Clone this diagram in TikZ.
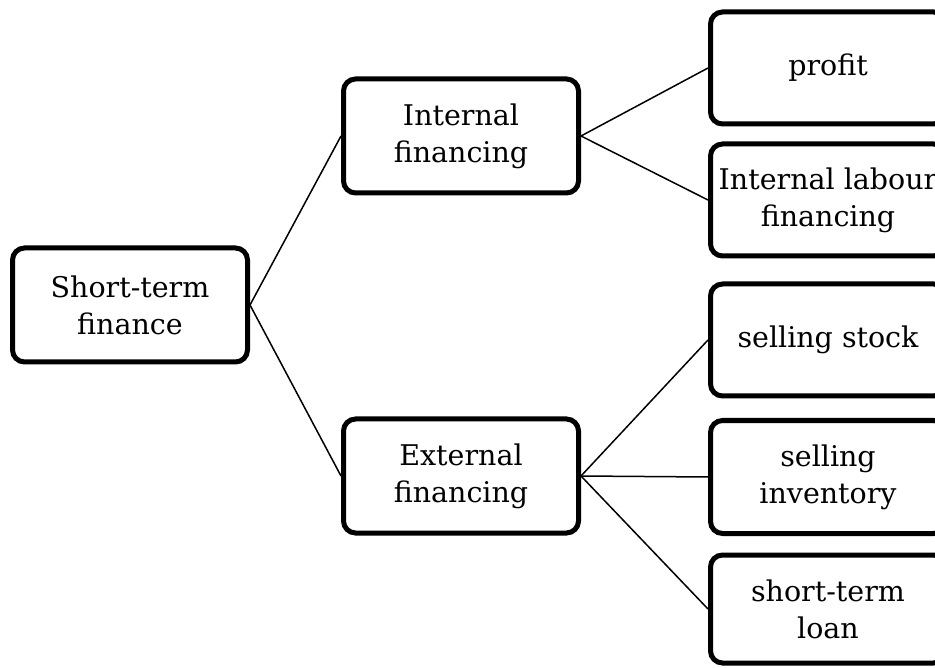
\documentclass[tikz,border=0pt]{standalone}
\usepackage{fontspec}
\setmainfont{DejaVu Serif}
\usepackage{tikz}

\begin{document}
\begin{tikzpicture}[x=1pt, y=-1pt,
    box/.style={draw, line width=5pt, rounded corners=12pt, align=center,
        minimum width=235pt, minimum height=114pt, inner sep=0pt,
        font=\fontsize{28.5}{37}\selectfont},
    link/.style={line width=1.5pt}]
    \useasboundingbox (0,0) rectangle (935,668);

    \node[box] (short) at (130,305) {Short-term\\finance};
    \node[box] (internal) at (461,136) {Internal\\financing};
    \node[box] (external) at (461,476) {External\\financing};

    \node[box, minimum height=112pt] (profit) at (828,68) {profit};
    \node[box, minimum height=112pt] (labour) at (828,200) {Internal labour\\financing};
    \node[box, minimum height=112pt] (stock) at (828,340) {selling stock};
    \node[box, minimum height=113pt] (inventory) at (828,477) {selling\\inventory};
    \node[box, minimum height=108pt] (loan) at (828,609) {short-term\\loan};

    \draw[link] (short.east) -- (internal.west);
    \draw[link] (short.east) -- (external.west);

    \draw[link] (internal.east) -- (profit.west);
    \draw[link] (internal.east) -- (labour.west);

    \draw[link] (external.east) -- (stock.west);
    \draw[link] (external.east) -- (inventory.west);
    \draw[link] (external.east) -- (loan.west);
\end{tikzpicture}
\end{document}
